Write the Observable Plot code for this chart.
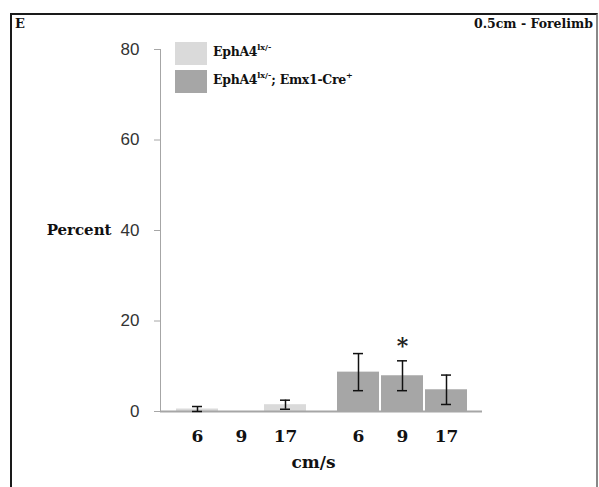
<!DOCTYPE html>
<html>
<head>
<meta charset="utf-8">
<script src="https://cdn.jsdelivr.net/npm/d3@7"></script>
<script src="https://cdn.jsdelivr.net/npm/@observablehq/plot@0.6"></script>
<style>
  body { margin: 0; background: #fff; }
  #wrap { position: relative; width: 599px; height: 487px; overflow: hidden; background: #fff; }
  #wrap svg { position: absolute; left: 0; top: 0; }
  #frame { position: absolute; left: 10px; top: 13px; width: 584px; height: 520px;
           border-top: 2px solid #1a1a1a; border-left: 2px solid #1a1a1a; border-right: 2px solid #888; }
  .serif { font-family: "DejaVu Serif", serif; font-weight: bold; color: #111; position: absolute; white-space: nowrap; }
  #panel { left: 15px; top: 16px; font-size: 13px; }
  #cond { right: 6px; top: 16px; font-size: 12.5px; }
  .sw { position: absolute; width: 32px; height: 23px; }
  .leg { font-size: 12.5px; letter-spacing: -0.3px; }
  .leg sup { font-size: 8px; vertical-align: 6px; line-height: 0; font-weight: bold; letter-spacing: 0; }
  g[aria-label="y-axis tick label"] { fill: #333; font-family: "Liberation Sans", sans-serif; font-size: 17px; }
  g[aria-label="x-axis tick label"] { fill: #111; font-family: "DejaVu Serif", serif; font-weight: bold; font-size: 17px; }
  g[aria-label="y-axis tick"], g[aria-label="y-axis line"], g[aria-label="frame"] { stroke: #a6a6a6; }
</style>
</head>
<body>
<div id="wrap">
  <div id="frame"></div>
</div>
<script>
// ---- data ----
const groups = ["EphA4lx/-", "EphA4lx/-; Emx1-Cre+"];
const speeds = ["6", "9", "17"];
const ctrlMean = [0.55, 0, 1.5];
const ctrlErr  = [0.55, 0, 1.0];
const cKOMean  = [8.7, 7.9, 4.8];
const cKOErr   = [4.1, 3.3, 3.25];
const barColors = ["#dadada", "#a6a6a6"];
const yTicks = [0, 20, 40, 60, 80];
const significant = [{group: groups[1], speed: "9"}];
const panelLetter = "E";
const condition = "0.5cm - Forelimb";
const yLabel = "Percent";
const xLabel = "cm/s";

const rows = [];
speeds.forEach((s, i) => rows.push({group: groups[0], speed: s, mean: ctrlMean[i], err: ctrlErr[i]}));
speeds.forEach((s, i) => rows.push({group: groups[1], speed: s, mean: cKOMean[i], err: cKOErr[i]}));
const errRows = rows.filter(d => d.err > 0).map(d => ({...d, lo: Math.max(0, d.mean - d.err), hi: d.mean + d.err}));
const sigRows = significant.map(s => errRows.find(d => d.group === s.group && d.speed === s.speed));

const chart = Plot.plot({
  width: 599,
  height: 487,
  marginTop: 49,
  marginBottom: 76,
  marginLeft: 159,
  marginRight: 117,
  style: {background: "transparent", color: "#a6a6a6", overflow: "visible"},
  fx: {domain: groups, padding: 0, axis: null, label: null},
  x: {domain: speeds, paddingInner: 0.05, paddingOuter: 0.35, tickSize: 0, tickPadding: 18, label: null},
  y: {domain: [0, 80], ticks: yTicks, tickSize: 6, tickPadding: 15, line: true, label: null},
  color: {domain: groups, range: barColors},
  marks: [
    Plot.barY(rows, {fx: "group", x: "speed", y: "mean", fill: "group"}),
    Plot.ruleY([0], {stroke: "#a6a6a6", strokeWidth: 2}),
    Plot.ruleX(errRows, {fx: "group", x: "speed", y1: "lo", y2: "hi", stroke: "#111", strokeWidth: 1.5}),
    Plot.tickY(errRows, {fx: "group", x: "speed", y: "hi", stroke: "#111", strokeWidth: 1.5, insetLeft: 16, insetRight: 16}),
    Plot.tickY(errRows, {fx: "group", x: "speed", y: "lo", stroke: "#111", strokeWidth: 1.5, insetLeft: 16, insetRight: 16}),
    Plot.text(sigRows, {fx: "group", x: "speed", y: "hi", text: () => "*", dy: -15, fill: "#222", fontSize: 22, fontWeight: "bold", fontFamily: "DejaVu Serif"}),
    Plot.text([{group: groups[0]}], {fx: "group", frameAnchor: "left", y: () => 40, text: () => yLabel,
      textAnchor: "end", dx: -49, fill: "#111", fontFamily: "DejaVu Serif", fontWeight: "bold", fontSize: 15}),
    Plot.text([{group: groups[1]}], {fx: "group", frameAnchor: "bottom-left", text: () => xLabel,
      textAnchor: "middle", dx: -8, dy: 56, fill: "#111", fontFamily: "DejaVu Serif", fontWeight: "bold", fontSize: 17})
  ]
});

const wrap = document.getElementById("wrap");
wrap.appendChild(chart);

function addDiv(cls, id, html, styleObj) {
  const d = document.createElement("div");
  d.className = cls;
  if (id) d.id = id;
  d.innerHTML = html;
  Object.assign(d.style, styleObj || {});
  wrap.appendChild(d);
  return d;
}
addDiv("serif", "panel", panelLetter);
addDiv("serif", "cond", condition);

// legend
const legendHtml = [
  "EphA4<sup>lx/-</sup>",
  "EphA4<sup>lx/-</sup>; Emx1-Cre<sup>+</sup>"
];
groups.forEach((g, i) => {
  addDiv("sw", null, "", {left: "175px", top: (42 + i * 28) + "px", background: barColors[i]});
  addDiv("serif leg", null, legendHtml[i], {left: "213px", top: (44 + i * 28) + "px"});
});
</script>
</body>
</html>
